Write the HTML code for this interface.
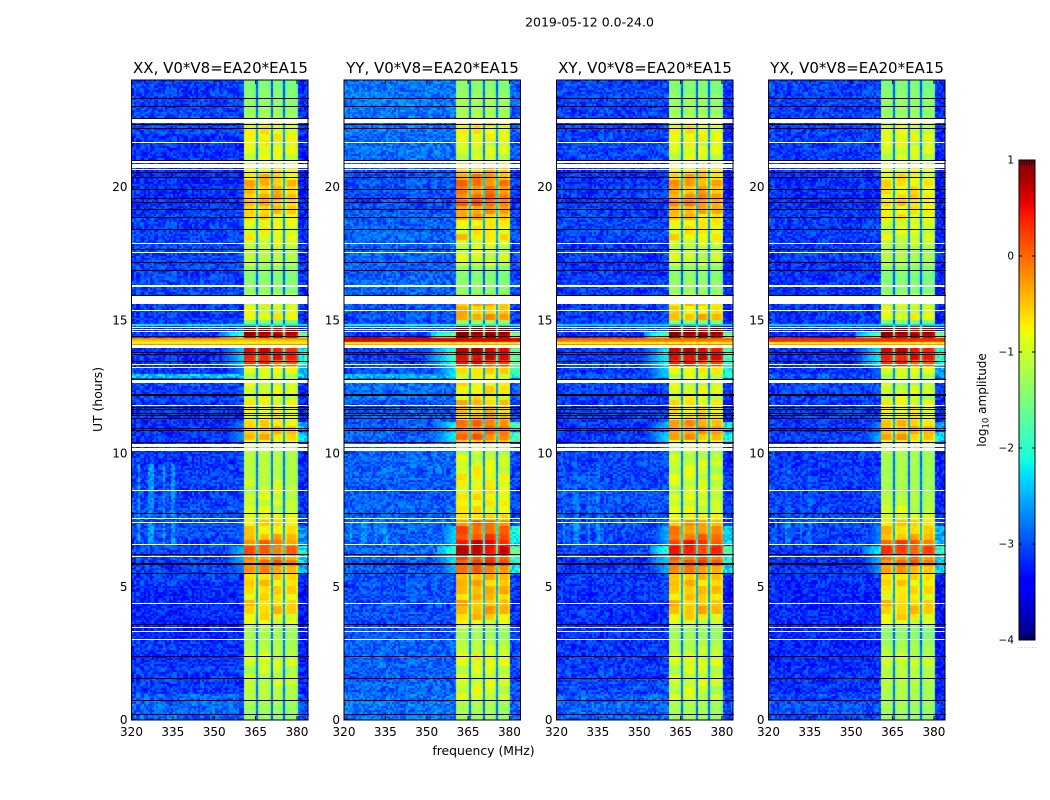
<!DOCTYPE html>
<html lang="en">
<head>
<meta charset="utf-8">
<title>2019-05-12 0.0-24.0</title>
<style>
html,body{margin:0;padding:0;background:#fff;}
#figure{position:relative;width:1050px;height:800px;overflow:hidden;background:#fff;}
canvas{position:absolute;display:block;}
svg{position:absolute;left:0;top:0;}
text{font-family:"DejaVu Sans","Liberation Sans",sans-serif;fill:#000;}
</style>
</head>
<body>
<div id="figure">
<svg id="overlay" width="1050" height="800" viewBox="0 0 1050 800">
  <text x="589.5" y="26.5" font-size="12.5" text-anchor="middle">2019-05-12 0.0-24.0</text>
  <text x="220.5" y="73" font-size="15" text-anchor="middle">XX, V0*V8=EA20*EA15</text>
  <text x="432.5" y="73" font-size="15" text-anchor="middle">YY, V0*V8=EA20*EA15</text>
  <text x="645" y="73" font-size="15" text-anchor="middle">XY, V0*V8=EA20*EA15</text>
  <text x="857" y="73" font-size="15" text-anchor="middle">YX, V0*V8=EA20*EA15</text>
  <text x="483.5" y="755" font-size="12.4" text-anchor="middle">frequency (MHz)</text>
  <text transform="translate(102,399.5) rotate(-90)" font-size="12.4" text-anchor="middle">UT (hours)</text>
  <text transform="translate(986,400) rotate(-90)" font-size="12" text-anchor="middle">log<tspan font-size="8.5" dy="2.5">10</tspan><tspan dy="-2.5"> amplitude</tspan></text>
  <text x="1017" y="648" font-size="7" letter-spacing="1.3" style="fill:#999">......</text>
</svg>
</div>
<script>
// ---------- data: log10 amplitude ----------
const panelNames = ["xx", "yy", "xy", "yx"];
const xTickLabels = [320, 335, 350, 365, 380];
const yTickLabels = [0, 5, 10, 15, 20];
const colorbarTicks = [1, 0, -1, -2, -3, -4];

// In-band level per 0.25 h bin (4 values per hour, hour 0 first)
const bandXX = [
-1.35,-1.3,-1.25,-1.15, -1.15,-1.1,-1.1,-1.1, -1.05,-1.05,-1.15,-1.2, -1.25,-1.25,-1.0,-0.8,
-0.6,-0.6,-0.7,-0.7, -0.65,-0.6,-0.3,-0.1, -0.3,-0.05,-0.15,-0.5, -0.65,-0.65,-0.95,-1.05,
-1.05,-1.05,-1.1,-1.1, -1.15,-1.15,-1.15,-1.15, -1.15,-0.9,-0.55,-0.5, -0.7,-0.85,-0.85,-0.9,
-0.95,-1.0,-0.95,-1.05, -0.95,0.15,0.4,0.45, 0.4,0.7,0.75,-1.5, -0.85,-0.95,-0.85,-0.95,
-1.4,-1.4,-1.45,-1.4, -1.1,-1.15,-1.15,-1.0, -0.85,-0.85,-0.95,-0.75, -0.55,-0.5,-0.45,-0.55,
-0.5,-0.6,-0.8,-0.9, -0.95,-0.95,-0.9,-0.75, -0.8,-1.0,-1.25,-1.3, -1.35,-1.4,-1.45,-1.5];
const bandYY = [
-1.3,-1.25,-1.2,-1.05, -1.0,-1.0,-1.0,-1.0, -0.95,-0.9,-1.05,-1.15, -1.3,-1.25,-0.95,-0.6,
-0.45,-0.45,-0.5,-0.5, -0.5,-0.45,-0.1,0.15, 0.1,0.55,0.5,0.1, 0.05,-0.1,-0.75,-0.8,
-0.75,-0.75,-0.85,-0.85, -0.85,-0.9,-1.0,-1.0, -1.1,-0.6,-0.1,-0.1, -0.1,-0.45,-0.5,-0.55,
-0.8,-0.75,-0.75,-0.85, -0.7,0.3,0.55,0.65, 0.7,0.85,0.9,-1.3, -0.35,-0.5,-0.4,-0.5,
-1.4,-1.4,-1.45,-1.45, -1.0,-1.05,-1.1,-1.0, -0.6,-0.75,-0.85,-0.45, -0.3,0.0,-0.1,-0.2,
-0.15,-0.25,-0.6,-0.8, -1.05,-1.05,-1.0,-0.8, -0.8,-0.7,-1.2,-1.25, -1.25,-1.3,-1.4,-1.4];
const bandXY = [
-1.3,-1.25,-1.2,-1.1, -1.1,-1.05,-1.05,-1.05, -1.0,-1.0,-1.1,-1.2, -1.3,-1.3,-1.1,-0.75,
-0.5,-0.5,-0.6,-0.6, -0.6,-0.5,-0.25,0.05, -0.05,0.25,0.25,-0.1, -0.2,-0.35,-0.9,-1.0,
-1.0,-1.0,-1.05,-1.05, -1.05,-1.05,-1.05,-1.1, -1.1,-0.9,-0.4,-0.3, -0.35,-0.7,-0.7,-0.8,
-0.95,-0.95,-1.0,-1.0, -0.85,0.25,0.55,0.55, 0.5,0.8,0.85,-1.4, -0.5,-0.7,-0.6,-0.75,
-1.35,-1.35,-1.4,-1.4, -1.05,-1.1,-1.15,-1.0, -0.7,-0.75,-0.85,-0.6, -0.4,-0.25,-0.3,-0.45,
-0.4,-0.5,-0.75,-0.9, -1.0,-1.0,-0.95,-0.8, -0.8,-1.0,-1.2,-1.3, -1.3,-1.35,-1.45,-1.45];
const bandYX = [
-1.35,-1.3,-1.25,-1.2, -1.2,-1.15,-1.15,-1.15, -1.1,-1.1,-1.2,-1.3, -1.4,-1.4,-1.0,-0.75,
-0.6,-0.55,-0.8,-0.75, -0.7,-0.65,-0.4,-0.1, -0.2,0.1,0.05,-0.5, -0.55,-0.6,-1.05,-1.1,
-1.15,-1.15,-1.25,-1.25, -1.25,-1.25,-1.25,-1.25, -1.2,-0.9,-0.45,-0.45, -0.55,-0.85,-0.85,-0.9,
-1.05,-1.05,-1.1,-1.1, -1.0,0.2,0.45,0.5, 0.45,0.75,0.8,-1.5, -0.9,-1.0,-0.95,-1.0,
-1.45,-1.45,-1.5,-1.45, -1.15,-1.2,-1.25,-1.1, -0.95,-0.95,-1.05,-0.85, -0.75,-0.65,-0.7,-0.75,
-0.75,-0.8,-0.95,-1.05, -1.05,-1.05,-1.0,-0.85, -0.95,-1.1,-1.3,-1.35, -1.35,-1.4,-1.45,-1.5];

// Out-of-band noise floor per hour
const noiseXX = [-2.9,-3.1,-3.15,-3.2,-3.2,-3.1,-3.05,-3.0,-3.05,-3.1,-3.15,-3.15,-3.05,-3.1,-3.1,-3.1,-3.05,-3.05,-3.05,-3.15,-3.2,-3.15,-3.05,-3.05];
const noiseYY = [-2.8,-2.9,-2.9,-3.0,-3.0,-2.95,-2.9,-2.9,-2.95,-2.9,-2.9,-2.95,-2.85,-3.05,-3.05,-2.95,-2.9,-2.9,-2.9,-3.0,-2.95,-2.85,-2.8,-2.8];
const noiseXY = [-2.9,-3.05,-3.1,-3.15,-3.15,-3.1,-3.05,-3.0,-3.0,-3.05,-3.1,-3.1,-3.05,-3.1,-3.1,-3.1,-3.1,-3.1,-3.05,-3.1,-3.15,-3.05,-3.05,-3.05];
const noiseYX = [-3.0,-3.15,-3.2,-3.2,-3.2,-3.15,-3.1,-3.05,-3.1,-3.1,-3.1,-3.1,-3.05,-3.15,-3.15,-3.1,-3.15,-3.1,-3.1,-3.15,-3.15,-3.1,-3.05,-3.05];

// Receiver sub-bands in MHz
const bandBlocks = [[360.5, 365.0], [365.9, 370.2], [370.9, 375.0], [375.8, 379.9]];
const blockOffsets = [0.03, 0.05, 0.02, -0.02];
const blockEdgeDrop = 0.22;
const blockRipple = [
  [0.05,-0.15,0.1,0.2,-0.1,0.0,0.15,-0.2,0.05,0.1,-0.05],
  [0.15,0.05,-0.1,0.1,0.2,-0.05,-0.15,0.1,0.0,0.2,-0.1],
  [-0.05,0.2,0.15,-0.1,0.05,0.2,-0.1,0.05,0.15,-0.15,0.1],
  [-0.1,0.05,-0.05,0.15,-0.15,0.1,0.05,-0.1,0.2,0.0,0.05]
];

// Full-width interference rows: start h, end h, level in xx/yy/xy/yx
const rfiRows = [
  [14.76, 14.87, [-2.2, -2.1, -2.3, -2.3]],
  [14.22, 14.33, [-0.25, 0.6, 0.0, 0.35]],
  [14.15, 14.22, [-0.55, 0.55, -0.15, 0.3]],
  [14.10, 14.15, [-0.9, -0.8, -0.8, -0.8]],
  [14.05, 14.10, [-0.15, -0.3, -0.1, -0.25]],
  [13.72, 13.76, [-1.0, -2.9, -1.4, -2.9]]
];
const lowRows = [
  [12.8, 13.0, [-2.4, -2.45, -2.95, -2.95]]
];
// Spill next to the band: start h, end h, start MHz, level in xx/yy/xy/yx
const spillRows = [
  [5.5, 5.85, 355, [-2.7, -2.4, -2.5, -2.6]],
  [5.85, 6.2, 354, [-2.5, -2.2, -2.3, -2.5]],
  [6.2, 6.55, 354, [-2.4, -1.9, -2.0, -2.2]],
  [6.6, 7.3, 356, [-2.9, -2.3, -2.5, -2.7]],
  [10.4, 10.8, 351, [-2.6, -2.1, -2.3, -2.5]],
  [10.9, 11.2, 351, [-2.7, -2.1, -2.4, -2.7]],
  [12.8, 13.25, 351, [-2.7, -2.2, -2.3, -2.8]],
  [13.3, 13.95, 350, [-2.3, -1.9, -2.1, -2.2]],
  [14.3, 14.55, 352, [-1.9, -1.5, -1.7, -1.7]]
];
// Faint vertical stripes at low frequency
const stripeChannels = [[322, 323.2], [326, 328.5], [331, 332.2], [334, 336]];
const stripeRows = [
  [6.6, 7.4, [-2.65, -2.65, -2.65, -2.75]],
  [7.6, 8.6, [-2.7, -2.95, -2.8, -2.9]],
  [8.6, 9.6, [-2.65, -3.0, -2.9, -3.0]],
  [2.6, 3.0, [-2.95, -3.1, -3.1, -3.1]]
];

// Flagged integrations (white = missing, black = zero), in hours
const whiteFlags = [
  [22.37,22.53],[21.64,21.68],[20.88,20.96],[20.68,20.83],[20.62,20.66],[17.85,17.89],
  [17.52,17.56],[17.12,17.16],[16.25,16.29],[15.63,15.90],[15.58,15.62],[15.32,15.36],
  [14.69,14.73],[14.61,14.65],[14.54,14.58],[13.99,14.05],[13.95,13.98],[13.32,13.36],
  [13.20,13.24],[12.64,12.74],[11.78,11.82],[10.22,10.36],[10.08,10.19],[8.59,8.63],
  [7.53,7.57],[7.39,7.43],[6.55,6.59],[6.09,6.13],[4.34,4.38],[3.44,3.48],[3.29,3.33],[2.99,3.03]
];
const blackFlags = [
  [23.31,1],[23.02,1],[22.59,1],[22.36,1],[22.21,1],[21.0,1],[20.54,1],[20.37,1],[19.91,1],
  [19.58,1],[19.43,1],[19.16,1],[18.87,1],[18.41,1],[17.66,1],[17.17,1],[16.87,1],[15.93,1],
  [14.39,1],[13.78,1],[13.70,1],[13.46,1],[12.78,1],[12.21,1],[12.17,1],[11.74,1],[11.64,1],
  [11.51,1],[11.43,1],[11.30,1],[10.96,1],[10.86,1],[10.42,1],[7.74,1],[6.21,1],[5.86,2],
  [5.51,1],[3.57,1],[2.37,1],[1.55,1],[0.72,1],[0.21,1]
];
// Fixed cell-to-cell grain table
const grainTable = [
  0.31,-0.72,0.54,-0.18,0.87,-0.45,0.12,-0.93,0.66,-0.27,0.41,-0.61,0.95,-0.09,-0.52,0.23,0.74,
  -0.84,0.05,0.48,-0.36,0.81,-0.68,0.17,-0.14,0.59,-0.99,0.33,-0.23,0.71,-0.57,0.02,0.91,-0.41,
  0.28,-0.77,0.63,-0.06,0.38,-0.89,0.52,-0.31,0.78,-0.12,-0.65,0.19,0.97,-0.48,0.09,-0.81,0.44,
  -0.21,0.69,-0.54,0.26,-0.95,0.83,-0.37,0.14,-0.7,0.56,-0.03,-0.59,0.36,0.75,-0.16,-0.86
];

const bandSeries = [bandXX, bandYY, bandXY, bandYX];
const noiseSeries = [noiseXX, noiseYY, noiseXY, noiseYX];

// ---------- axes ----------
const panelLefts = [131.5, 344, 556.5, 768.5];
const panelWidth = 176.5;
const plotTop = 80;
const plotBottom = 720;
const freqMin = 320, freqMax = 384, hourMax = 24;
const channelCount = 85, rowCount = 320;
const SVGNS = "http://www.w3.org/2000/svg";
const figure = document.getElementById("figure");
const overlay = document.getElementById("overlay");

function xScale(panel, mhz) { return panelLefts[panel] + (mhz - freqMin) / (freqMax - freqMin) * panelWidth; }
function yScale(hour) { return plotBottom - 0.4 - hour / hourMax * (plotBottom - plotTop - 0.4); }
function colorScale(v) { return (v + 4) / 5; }

function ramp(t, pts) {
  if (t <= pts[0][0]) return pts[0][1];
  for (let i = 1; i < pts.length; i++) {
    if (t <= pts[i][0]) {
      const a = pts[i - 1], b = pts[i];
      return a[1] + (b[1] - a[1]) * (t - a[0]) / (b[0] - a[0]);
    }
  }
  return pts[pts.length - 1][1];
}
function jet(t) {
  t = Math.max(0, Math.min(1, t));
  const r = ramp(t, [[0.35, 0], [0.66, 1], [0.89, 1], [1, 0.5]]);
  const g = ramp(t, [[0.125, 0], [0.375, 1], [0.64, 1], [0.91, 0]]);
  const b = ramp(t, [[0, 0.5], [0.11, 1], [0.34, 1], [0.65, 0]]);
  return "rgb(" + Math.round(r * 255) + "," + Math.round(g * 255) + "," + Math.round(b * 255) + ")";
}

function grainAt(c, r, p) {
  const n = grainTable.length;
  const rowShift = Math.floor((grainTable[(r * 29 + p * 11) % n] + 1) * 33);
  const colShift = Math.floor((grainTable[(c * 17 + p * 5) % n] + 1) * 33);
  return grainTable[(c * 13 + r * 7 + rowShift * 3 + colShift * 5 + p * 7) % n];
}

function levelAt(p, f, h, c, r) {
  const grain = grainAt(c, r, p);
  for (const row of rfiRows) {
    if (h >= row[0] && h < row[1]) return row[2][p] + grain * 0.05;
  }
  const bin = Math.min(bandSeries[p].length - 1, Math.floor(h * 4));
  const band = bandSeries[p][bin];
  const noise = noiseSeries[p][Math.min(noiseSeries[p].length - 1, Math.floor(h))];
  for (let b = 0; b < bandBlocks.length; b++) {
    if (f >= bandBlocks[b][0] && f < bandBlocks[b][1]) {
      const ripple = band > -1.15 ? blockRipple[b][bin % blockRipple[b].length] : 0;
      const edge = (f < bandBlocks[b][0] + 0.5 || f > bandBlocks[b][1] - 0.5) ? blockEdgeDrop : 0;
      return band + blockOffsets[b] + ripple - edge + grain * 0.05;
    }
  }
  if (f >= bandBlocks[0][0] && f < bandBlocks[3][1]) {
    return -2.85 + 0.5 * (band + 1.2) + grain * 0.1;
  }
  let level = f >= bandBlocks[3][1] ? noise - 0.12 : noise;
  let grainScale = 0.35;
  for (const row of lowRows) {
    if (h >= row[0] && h < row[1]) level = Math.max(level, row[2][p]);
  }
  for (const row of stripeRows) {
    if (h >= row[0] && h < row[1] && stripeChannels.some(s => f >= s[0] && f < s[1])) {
      if (row[2][p] > level) { level = row[2][p]; grainScale = 0.3; }
    }
  }
  for (const row of spillRows) {
    if (h >= row[0] && h < row[1]) {
      if (f >= bandBlocks[3][1]) level = Math.max(level, row[3][p] + 0.2);
      else if (f >= row[2]) {
        const v = row[3][p] - (360.5 - f) * 0.1;
        if (v > level) { level = v; grainScale = 0.15; }
      }
    }
  }
  return level + grain * grainScale;
}

function svgEl(tag, attrs) {
  const el = document.createElementNS(SVGNS, tag);
  for (const k in attrs) el.setAttribute(k, attrs[k]);
  overlay.appendChild(el);
  return el;
}

function drawHeatmap(p) {
  const cv = document.createElement("canvas");
  
  
  const left = Math.round(panelLefts[p]);
  const w = Math.round(panelWidth);
  const h = plotBottom - plotTop;
  cv.width = w;
  cv.height = h;
  cv.style.left = left + "px";
  cv.style.top = plotTop + "px";
  figure.insertBefore(cv, overlay);
  const ctx = cv.getContext("2d");
  const chW = (freqMax - freqMin) / channelCount;
  const rowH = hourMax / rowCount;
  for (let c = 0; c < channelCount; c++) {
    const f = freqMin + (c + 0.5) * chW;
    const x0 = Math.round(xScale(p, freqMin + c * chW)) - left;
    const x1 = Math.round(xScale(p, freqMin + (c + 1) * chW)) - left;
    for (let r = 0; r < rowCount; r++) {
      const hr = (r + 0.5) * rowH;
      const y1 = Math.round(yScale(r * rowH)) - plotTop;
      const y0 = Math.round(yScale((r + 1) * rowH)) - plotTop;
      ctx.fillStyle = jet(colorScale(levelAt(p, f, hr, c, r)));
      ctx.fillRect(x0, y0, x1 - x0, y1 - y0);
    }
  }
}

function drawFlags(p) {
  const x = Math.round(panelLefts[p]);
  const w = Math.round(panelWidth);
  for (const flag of whiteFlags) {
    const y0 = Math.round(yScale(flag[1]));
    const y1 = Math.max(y0 + 1, Math.round(yScale(flag[0])));
    const el = svgEl("rect", { x: x, y: y0, width: w, height: y1 - y0, fill: "#fff", "shape-rendering": "crispEdges" });
    
    
  }
  for (const flag of blackFlags) {
    const y0 = Math.round(yScale(flag[0]));
    const el = svgEl("rect", { x: x, y: y0, width: w, height: flag[1], fill: "#000", "shape-rendering": "crispEdges" });
    
    
  }
}

function drawAxes(p) {
  const L = panelLefts[p], R = L + panelWidth;
  for (const v of xTickLabels) {
    const x = xScale(p, v);
    const top = svgEl("line", { x1: x, x2: x, y1: plotTop, y2: plotTop + 4, stroke: "#000", "stroke-width": 1 });
    
    
    const bot = svgEl("line", { x1: x, x2: x, y1: plotBottom, y2: plotBottom - 4, stroke: "#000", "stroke-width": 1 });
    
    
    const t = svgEl("text", { x: x, y: 736, "font-size": 12, "text-anchor": "middle" });
    t.textContent = String(v);
    
    
  }
  for (const v of yTickLabels) {
    const y = yScale(v);
    const lt = svgEl("line", { x1: L, x2: L + 4, y1: y, y2: y, stroke: "#000", "stroke-width": 1 });
    
    
    const rt = svgEl("line", { x1: R, x2: R - 4, y1: y, y2: y, stroke: "#000", "stroke-width": 1 });
    
    
    const t = svgEl("text", { x: L - 4, y: y + 4.5, "font-size": 12, "text-anchor": "end" });
    t.textContent = String(v);
    
    
  }
  const frame = svgEl("rect", { x: L, y: plotTop, width: panelWidth, height: plotBottom - plotTop, fill: "none", stroke: "#000", "stroke-width": 1 });
  
  
}

function drawColorbar() {
  const cbTop = 160, cbBottom = 640, cbLeft = 1019, cbWidth = 16;
  const cv = document.createElement("canvas");
  
  
  cv.width = cbWidth;
  cv.height = cbBottom - cbTop;
  cv.style.left = cbLeft + "px";
  cv.style.top = cbTop + "px";
  figure.insertBefore(cv, overlay);
  const ctx = cv.getContext("2d");
  const hgt = cbBottom - cbTop;
  for (let y = 0; y < hgt; y++) {
    ctx.fillStyle = jet(1 - (y + 0.5) / hgt);
    ctx.fillRect(0, y, cbWidth, 1);
  }
  const cbY = v => cbBottom - (v + 4) / 5 * hgt;
  for (const v of colorbarTicks) {
    const y = cbY(v);
    const t = svgEl("text", { x: 1014, y: y + 3.5, "font-size": 10.5, "text-anchor": "end" });
    t.textContent = v < 0 ? "\u2212" + Math.abs(v) : String(v);
    
    
    const a = svgEl("line", { x1: cbLeft, x2: cbLeft + 3, y1: y, y2: y, stroke: "#000", "stroke-width": 1 });
    
    
    const b = svgEl("line", { x1: cbLeft + cbWidth, x2: cbLeft + cbWidth - 3, y1: y, y2: y, stroke: "#000", "stroke-width": 1 });
    
    
  }
  for (let i = 0; i < 6; i++) {
    const x = cbLeft + 2.5 + i * 2.6;
    const a = svgEl("line", { x1: x, x2: x, y1: cbTop, y2: cbTop + 5, stroke: "#000", "stroke-width": 0.8 });
    
    
    const b = svgEl("line", { x1: x, x2: x, y1: cbBottom, y2: cbBottom - 5, stroke: "#000", "stroke-width": 0.8 });
    
    
  }
  const outer = svgEl("rect", { x: cbLeft, y: cbTop, width: cbWidth, height: hgt, fill: "none", stroke: "#000", "stroke-width": 1 });
  
  
}

for (let p = 0; p < panelNames.length; p++) {
  drawHeatmap(p);
  drawFlags(p);
  drawAxes(p);
}
drawColorbar();
</script>
</body>
</html>
